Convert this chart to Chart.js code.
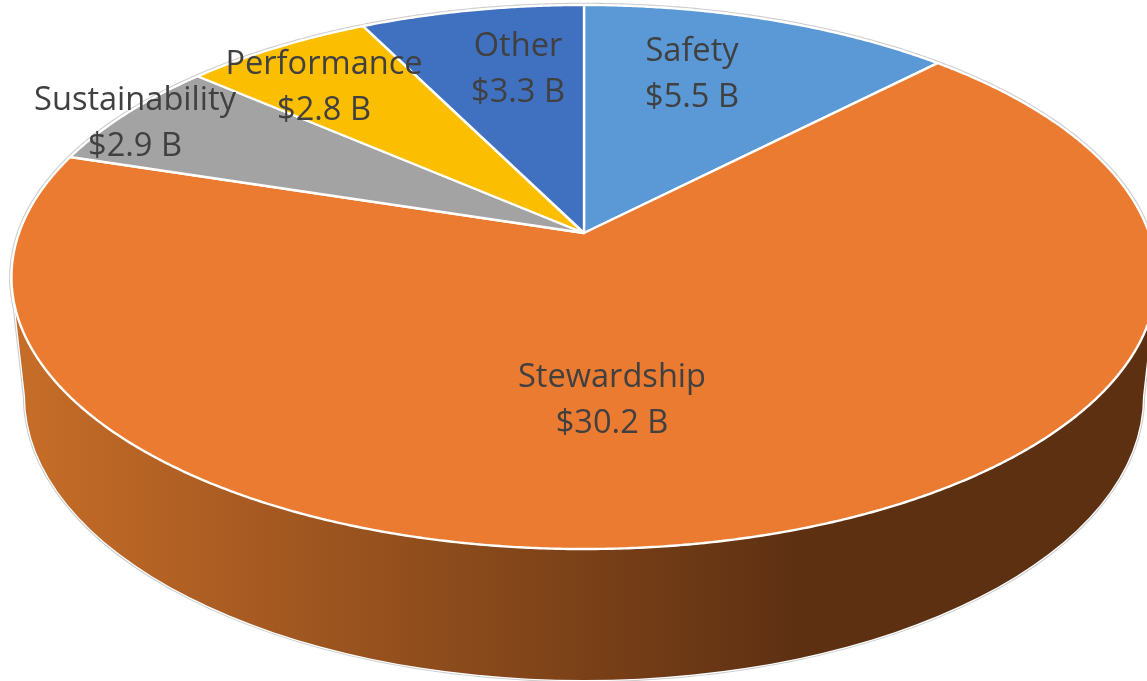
<!DOCTYPE html>
<html>
<head>
<meta charset="utf-8">
<style>html,body{margin:0;padding:0;background:#fff}canvas{display:block}</style>
<script src="https://cdn.jsdelivr.net/npm/chart.js@4"></script>
</head>
<body>
<canvas id="c" width="1147" height="681"></canvas>
<script>
const categories = ["Safety", "Stewardship", "Sustainability", "Performance", "Other"];
const values = [5.5, 30.2, 2.9, 2.8, 3.3];
const sliceColors = ["#5A98D6", "#EA7B30", "#A3A3A3", "#FCBE00", "#4070C0"];
const labelCentres = [[692, 52], [612, 378], [135, 101], [324, 65], [518, 47]];

// Perspective of the tilted disc (top face) and the ellipse of its lower rim.
const view = { x: 584, y: 233, sx: 565, sy: 227.2, k: -0.1618 };
const rim = { x: 584, y: 396, rx: 559, ry: 284 };

function P(a) {
  const X = Math.cos(a), Y = Math.sin(a), d = 1 + view.k * Y;
  return [view.x + view.sx * X / d, (view.y + view.sy * Y) / d];
}
function rimTo(ctx, from, to, first) {
  const n = Math.max(2, Math.ceil(Math.abs(to - from) / 0.006));
  for (let i = 0; i <= n; i++) {
    const p = P(from + (to - from) * i / n);
    if (i === 0 && first) ctx.moveTo(p[0], p[1]); else ctx.lineTo(p[0], p[1]);
  }
}
const extreme = Math.asin(-view.k);

function wallPath(ctx) {
  ctx.beginPath();
  rimTo(ctx, extreme, Math.PI - extreme, true);
  ctx.ellipse(rim.x, rim.y, rim.rx, rim.ry, 0, Math.PI, 0, true);
  ctx.closePath();
}

// Slices keep the angles Chart.js computes, and are drawn through the perspective.
Chart.ArcElement.prototype.draw = function (ctx) {
  const o = this.options;
  ctx.save();
  ctx.beginPath();
  ctx.moveTo(view.x, view.y);
  rimTo(ctx, this.startAngle, this.endAngle, false);
  ctx.closePath();
  ctx.fillStyle = o.backgroundColor;
  ctx.fill();
  ctx.lineJoin = "round";
  ctx.lineWidth = o.borderWidth;
  ctx.strokeStyle = o.borderColor;
  ctx.stroke();
  ctx.restore();
};

const wallPlugin = {
  id: "wall",
  beforeDatasetsDraw(chart) {
    const ctx = chart.ctx;
    ctx.save();
    // outer grey hairline around the whole solid
    ctx.beginPath();
    rimTo(ctx, 0, Math.PI * 2, true);
    ctx.closePath();
    ctx.lineWidth = 4.5;
    ctx.strokeStyle = "#CDCDCD";
    ctx.stroke();
    wallPath(ctx);
    ctx.stroke();
    const g = ctx.createLinearGradient(30, 0, 800, 0);
    g.addColorStop(0, "#C56C28");
    g.addColorStop(1, "#5D3012");
    wallPath(ctx);
    ctx.lineWidth = 2.4;
    ctx.strokeStyle = "#FFFFFF";
    ctx.stroke();
    ctx.fillStyle = g;
    ctx.fill();
    ctx.restore();
  }
};

const labelPlugin = {
  id: "sliceLabels",
  afterDatasetsDraw(chart) {
    const ctx = chart.ctx;
    ctx.save();
    ctx.font = '32.6px "Open Sans"';
    ctx.fillStyle = "#404040";
    ctx.textAlign = "center";
    ctx.textBaseline = "middle";
    categories.forEach((name, i) => {
      const c = labelCentres[i];
      ctx.fillText(name, c[0], c[1]);
      ctx.fillText("$" + values[i].toFixed(1) + " B", c[0], c[1] + 46);
    });
    ctx.restore();
  }
};

new Chart(document.getElementById("c"), {
  type: "pie",
  data: {
    labels: categories,
    datasets: [{
      data: values,
      backgroundColor: sliceColors,
      borderColor: "#FFFFFF",
      borderWidth: 2.4
    }]
  },
  options: {
    responsive: false,
    animation: false,
    events: [],
    plugins: { legend: { display: false }, tooltip: { enabled: false } }
  },
  plugins: [wallPlugin, labelPlugin]
});
</script>
</body>
</html>
